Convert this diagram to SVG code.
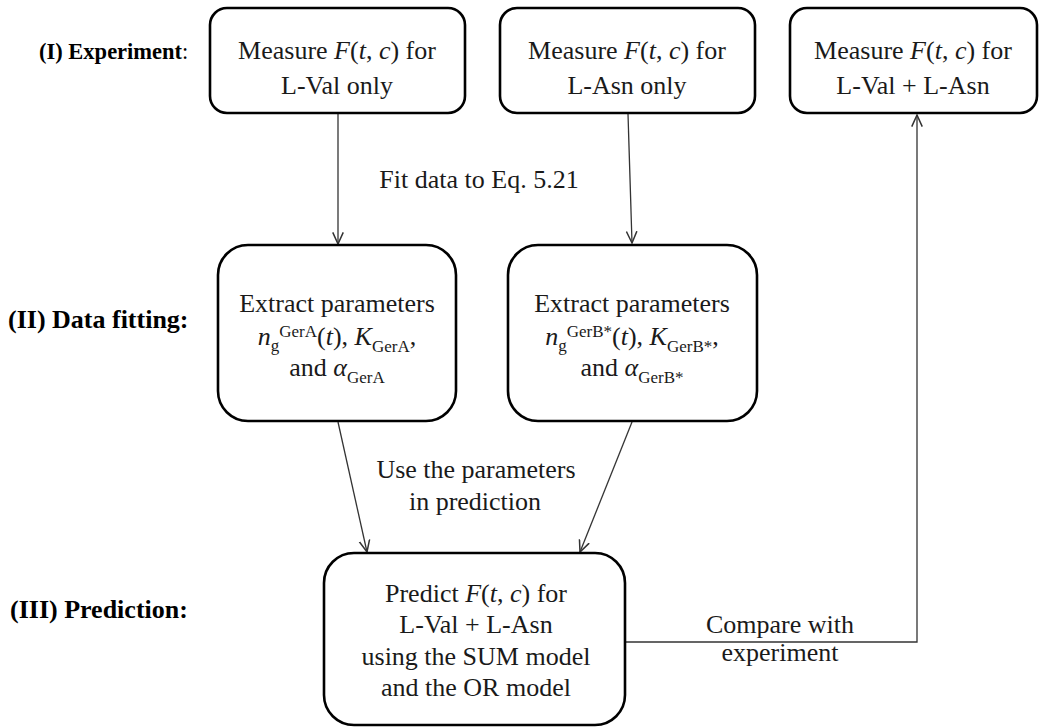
<svg xmlns="http://www.w3.org/2000/svg" width="1040" height="728" viewBox="0 0 1040 728">
<defs>
<style>
.box{fill:#fff;stroke:#000;stroke-width:2.6}
.t{font-family:"Liberation Serif","Times New Roman",serif;font-size:26px;fill:#1a1a1a;text-anchor:middle}
.lbl{font-family:"Liberation Serif","Times New Roman",serif;font-size:26px;font-weight:bold;fill:#000}
.i{font-style:italic}
.s{font-size:17px}
.c{fill:none;stroke:#333;stroke-width:1.3}
</style>
<marker id="arr" markerUnits="userSpaceOnUse" markerWidth="14" markerHeight="14" refX="10" refY="5" orient="auto" viewBox="0 0 12 10">
<path d="M0,0.5 L10,5 L0,9.5" fill="none" stroke="#333" stroke-width="1.3"/>
</marker>
</defs>
<rect width="1040" height="728" fill="#fff"/>

<g id="stage-labels">
<text class="lbl" x="39" y="59" style="font-size:22.5px">(I) Experiment<tspan style="font-weight:normal">:</tspan></text>
<text class="lbl" x="8" y="328">(II) Data fitting:</text>
<text class="lbl" x="10" y="618">(III) Prediction:</text>
</g>

<g id="connectors">
<line class="c" x1="338" y1="114" x2="338" y2="244" marker-end="url(#arr)"/>
<line class="c" x1="628" y1="114" x2="632" y2="243" marker-end="url(#arr)"/>
<line class="c" x1="338" y1="422" x2="367" y2="552" marker-end="url(#arr)"/>
<line class="c" x1="632" y1="422" x2="580" y2="552" marker-end="url(#arr)"/>
<polyline class="c" points="625,642 917,642 917,115" marker-end="url(#arr)"/>
<text class="t" x="479" y="188">Fit data to Eq. 5.21</text>
<text class="t" x="476" y="478">Use the parameters</text>
<text class="t" x="475" y="510">in prediction</text>
<text class="t" x="780" y="633">Compare with</text>
<text class="t" x="780" y="661">experiment</text>
</g>

<g id="measure-lval">
<rect class="box" x="210" y="8" width="255" height="105" rx="17"/>
<text class="t" x="337" y="59">Measure <tspan class="i">F</tspan>(<tspan class="i">t</tspan>, <tspan class="i">c</tspan>) for</text>
<text class="t" x="337" y="94">L-Val only</text>
</g>

<g id="measure-lasn">
<rect class="box" x="500" y="8" width="255" height="105" rx="17"/>
<text class="t" x="627" y="59">Measure <tspan class="i">F</tspan>(<tspan class="i">t</tspan>, <tspan class="i">c</tspan>) for</text>
<text class="t" x="627" y="94">L-Asn only</text>
</g>

<g id="measure-both">
<rect class="box" x="790" y="8" width="247" height="105" rx="17"/>
<text class="t" x="913" y="59">Measure <tspan class="i">F</tspan>(<tspan class="i">t</tspan>, <tspan class="i">c</tspan>) for</text>
<text class="t" x="913" y="94">L-Val + L-Asn</text>
</g>

<g id="extract-gera">
<rect class="box" x="218" y="245" width="238" height="176" rx="30"/>
<text class="t" x="337" y="312">Extract parameters</text>
<text class="t" x="337" y="345"><tspan class="i">n</tspan><tspan class="s" dy="6">g</tspan><tspan class="s" dy="-14">GerA</tspan><tspan dy="8">(</tspan><tspan class="i">t</tspan>), <tspan class="i">K</tspan><tspan class="s" dy="7">GerA</tspan><tspan dy="-7">,</tspan></text>
<text class="t" x="337" y="376">and <tspan class="i">α</tspan><tspan class="s" dy="7">GerA</tspan></text>
</g>

<g id="extract-gerb">
<rect class="box" x="508" y="245" width="249" height="176" rx="30"/>
<text class="t" x="632" y="312">Extract parameters</text>
<text class="t" x="632" y="345"><tspan class="i">n</tspan><tspan class="s" dy="6">g</tspan><tspan class="s" dy="-14">GerB*</tspan><tspan dy="8">(</tspan><tspan class="i">t</tspan>), <tspan class="i">K</tspan><tspan class="s" dy="7">GerB*</tspan><tspan dy="-7">,</tspan></text>
<text class="t" x="632" y="376">and <tspan class="i">α</tspan><tspan class="s" dy="7">GerB*</tspan></text>
</g>

<g id="predict">
<rect class="box" x="324" y="553" width="301" height="172" rx="30"/>
<text class="t" x="476" y="602">Predict <tspan class="i">F</tspan>(<tspan class="i">t</tspan>, <tspan class="i">c</tspan>) for</text>
<text class="t" x="476" y="633">L-Val + L-Asn</text>
<text class="t" x="476" y="665">using the SUM model</text>
<text class="t" x="476" y="696">and the OR model</text>
</g>
</svg>
